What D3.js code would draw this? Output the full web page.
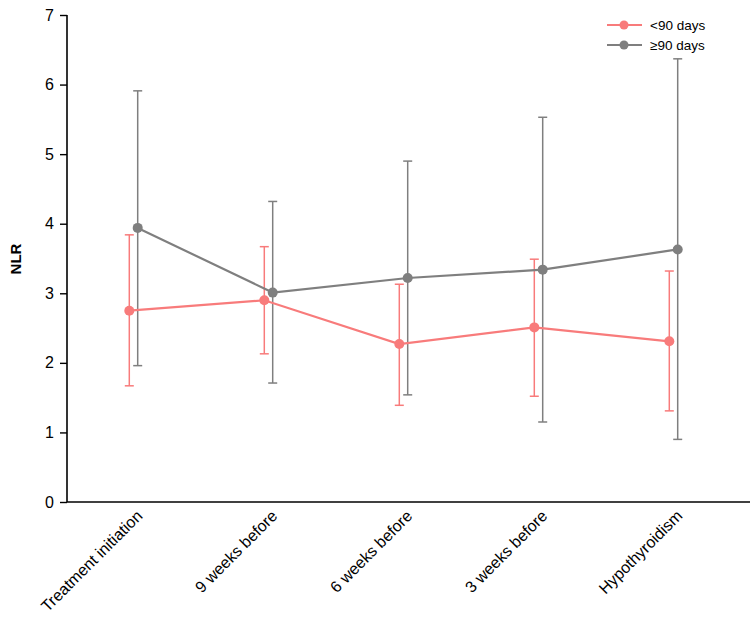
<!DOCTYPE html>
<html><head><meta charset="utf-8">
<script src="https://cdn.jsdelivr.net/npm/d3@7"></script>
<style>body{margin:0;background:#fff}text{font-family:Arial,"Liberation Sans",sans-serif}</style>
</head><body><svg id="c" width="750" height="619"></svg>
<script>
const categories = ["Treatment initiation","9 weeks before","6 weeks before","3 weeks before","Hypothyroidism"];
const yTicks = [0,1,2,3,4,5,6,7];
const seriesNames = ["<90 days","\u226590 days"];
const lessMean  = [2.75, 2.90, 2.27, 2.51, 2.31];
const lessLow   = [1.67, 2.13, 1.39, 1.52, 1.31];
const lessHigh  = [3.84, 3.67, 3.13, 3.49, 3.32];
const moreMean  = [3.94, 3.01, 3.22, 3.34, 3.63];
const moreLow   = [1.96, 1.71, 1.54, 1.15, 0.90];
const moreHigh  = [5.91, 4.32, 4.90, 5.53, 6.37];
const colors = ["#F87B7B", "#7F7F7F"];

const svg = d3.select("#c");
const x = d3.scaleBand().domain(categories).range([66, 741]);
const y = d3.scaleLinear().domain([0,7]).range([502, 15]);
const offsets = [-4.2, 4.2];

// y axis
const ya = svg.append("g").attr("transform","translate(67,0)")
  .call(d3.axisLeft(y).tickValues(yTicks).tickSize(7).tickPadding(6).tickFormat(d3.format("d")));
ya.select(".domain").attr("stroke","#000").attr("stroke-width",1.6).attr("d","M0,15V502");
ya.selectAll(".tick line").attr("stroke","#000").attr("stroke-width",1.4);
ya.selectAll(".tick text").attr("font-size",16).attr("fill","#000").attr("font-family","Arial, 'Liberation Sans', sans-serif");

// x axis
const xa = svg.append("g").attr("transform","translate(0,502)")
  .call(d3.axisBottom(x).tickSize(0).tickPadding(0));
xa.select(".domain").attr("stroke","#000").attr("stroke-width",1.6).attr("d","M67,0H750");
xa.selectAll(".tick text")
  .attr("font-size",16).attr("fill","#000").attr("font-family","Arial, 'Liberation Sans', sans-serif")
  .attr("text-anchor","end")
  .attr("transform","translate(2,7) rotate(-45)")
  .attr("dy","0.7em").attr("y",0);

// y label
svg.append("text").attr("transform","translate(21,259) rotate(-90)")
  .attr("text-anchor","middle").attr("font-size",15).attr("font-weight","bold").text("NLR");

const series = [
  {mean: lessMean, low: lessLow, high: lessHigh},
  {mean: moreMean, low: moreLow, high: moreHigh}
];

[1,0].forEach(si => {
  const s = series[si], col = colors[si];
  const g = svg.append("g");
  const cx = i => x(categories[i]) + x.bandwidth()/2 + offsets[si];
  categories.forEach((c,i) => {
    g.append("line").attr("x1",cx(i)).attr("x2",cx(i)).attr("y1",y(s.low[i])).attr("y2",y(s.high[i]))
      .attr("stroke",col).attr("stroke-width",1.5);
    [s.low[i], s.high[i]].forEach(v => g.append("line").attr("x1",cx(i)-4.5).attr("x2",cx(i)+4.5)
      .attr("y1",y(v)).attr("y2",y(v)).attr("stroke",col).attr("stroke-width",1.5));
  });
});
[1,0].forEach(si => {
  const s = series[si], col = colors[si];
  const cx = i => x(categories[i]) + x.bandwidth()/2 + offsets[si];
  const line = d3.line().x((d,i)=>cx(i)).y(d=>y(d));
  svg.append("path").datum(s.mean).attr("d",line).attr("fill","none").attr("stroke",col).attr("stroke-width",2.2);
  svg.append("g").selectAll("circle").data(s.mean).join("circle")
    .attr("cx",(d,i)=>cx(i)).attr("cy",d=>y(d)).attr("r",5).attr("fill",col);
});

// legend
seriesNames.forEach((n,i) => {
  const ly = 25 + i*20;
  svg.append("line").attr("x1",607).attr("x2",642).attr("y1",ly).attr("y2",ly).attr("stroke",colors[i]).attr("stroke-width",2.2);
  svg.append("circle").attr("cx",624).attr("cy",ly).attr("r",4.5).attr("fill",colors[i]);
  svg.append("text").attr("x",650).attr("y",ly).attr("dy","0.35em").attr("font-size",13.5).text(n);
});
</script></body></html>
